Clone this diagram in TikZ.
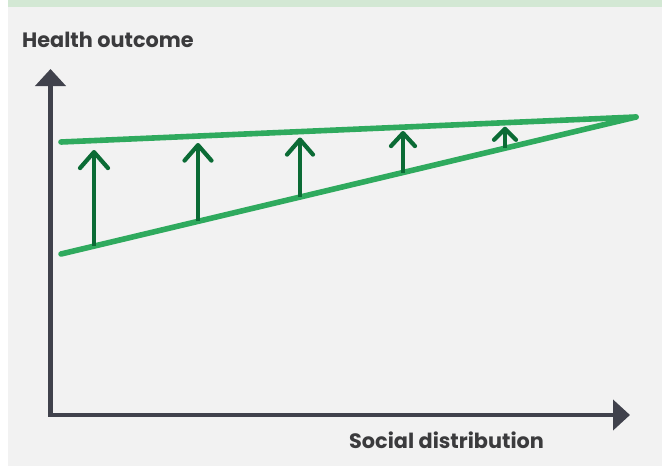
\documentclass[tikz,border=0pt]{standalone}
\usepackage{fontspec}
\setmainfont{Poppins}
\usepackage{tikz}
\usetikzlibrary{arrows.meta}
\definecolor{panelgray}{HTML}{F2F2F2}
\definecolor{bandgreen}{HTML}{D3E8D4}
\definecolor{axisgray}{HTML}{40424C}
\definecolor{textgray}{HTML}{3B3B3D}
\definecolor{linegreen}{HTML}{2FAA5E}
\definecolor{arrowgreen}{HTML}{0B6B35}

\begin{document}
\begin{tikzpicture}[x=1pt, y=-1pt,
  axisline/.style={draw=axisgray, line width=4.6pt},
  gapline/.style={draw=linegreen, line width=5.6pt, line cap=round},
  liftarrow/.style={draw=arrowgreen, line width=4.2pt},
  axislabel/.style={text=textgray, font=\fontsize{20.8}{25}\selectfont\bfseries, inner sep=0pt, anchor=base west}]
\useasboundingbox (0,0) rectangle (662,466);
\fill[white] (0,0) rectangle (662,466);
\fill[panelgray] (8,7) rectangle (662,466);
\fill[bandgreen] (8,0) rectangle (662,7);
% axes
\coordinate (ytop) at (50.5,69);
\coordinate (orig) at (50.5,415);
\coordinate (xend) at (630,415);
\draw[axisline, {Triangle[length=17pt, width=30pt]}-{Triangle[length=17pt, width=30pt]}] (ytop) -- (orig) -- (xend);
\node[axislabel] (ylab) at (22,47.5) {Health outcome};
\node[axislabel] (xlab) at (349,448) {Social distribution};
% the two lines meeting at the right
\coordinate (ul) at (61,142);
\coordinate (ll) at (61,254);
\coordinate (apex) at (636,117);
\draw[gapline] (ul) -- (apex);
\draw[gapline] (ll) -- (apex);
% arrows closing the gap
\foreach \n/\x/\yb/\yt/\hl/\hw in {1/94/246.1/150/16/28, 2/198/221.4/143/15.5/27, 3/300/197.1/137.5/15/26, 4/403/172.5/131/13/24, 5/505/148.2/126.7/11/22} {
  \coordinate (b\n) at (\x,\yb);
  \coordinate (t\n) at (\x,\yt);
  \draw[liftarrow, -{Straight Barb[round, length=\hl pt, width=\hw pt]}] (b\n) -- (t\n);
}
\end{tikzpicture}
\end{document}
